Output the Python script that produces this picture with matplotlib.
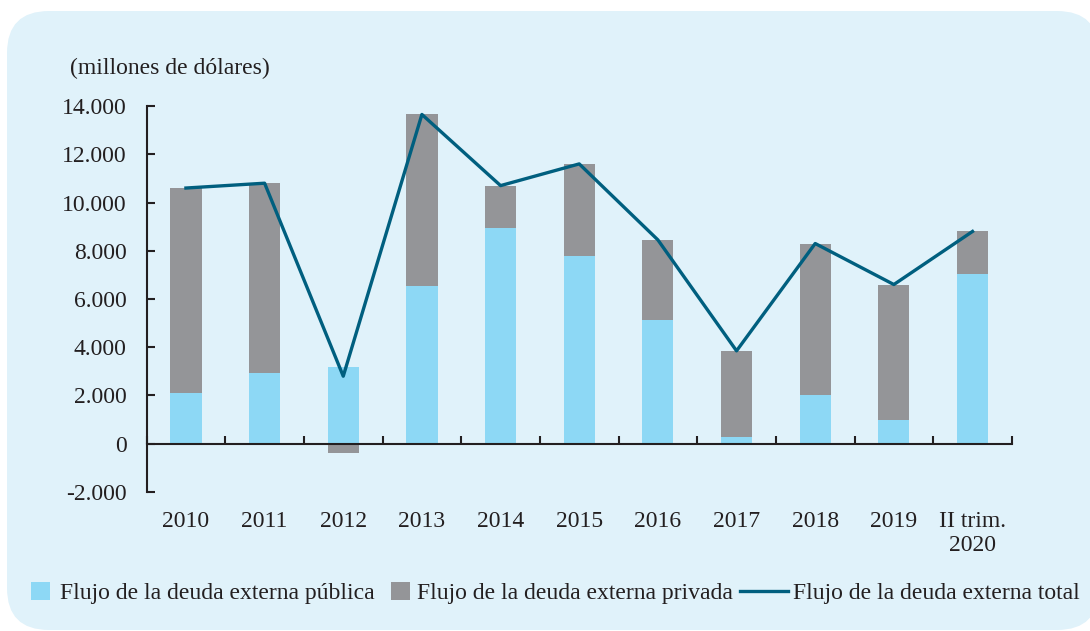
import matplotlib
matplotlib.use('Agg')
import matplotlib.pyplot as plt
import numpy as np
from matplotlib.patches import FancyBboxPatch
from matplotlib.ticker import FuncFormatter
from matplotlib.transforms import blended_transform_factory

# data (millones de dolares)
categories = ['2010', '2011', '2012', '2013', '2014', '2015', '2016', '2017',
              '2018', '2019', 'II trim.\n2020']
publica = [2100, 2950, 3200, 6550, 8950, 7800, 5150, 280, 2000, 1000, 7050]
privada = [8500, 7850, -400, 7100, 1750, 3800, 3300, 3570, 6300, 5600, 1750]
total = [10600, 10800, 2800, 13650, 10700, 11600, 8450, 3850, 8300, 6600, 8800]

C_PUB = '#8dd8f5'
C_PRIV = '#949598'
C_LINE = '#005f7f'
C_BG = '#e0f2fa'
C_TXT = '#231f20'
FS = 17

plt.rcParams['font.family'] = ['Liberation Serif', 'DejaVu Serif']
plt.rcParams['font.size'] = FS

fig = plt.figure(figsize=(10.9, 6.31), dpi=100)
bg = FancyBboxPatch((0.07, 0.01), 10.92, 6.19, boxstyle='round,pad=0,rounding_size=0.42',
                    transform=fig.dpi_scale_trans, facecolor=C_BG, edgecolor='none', zorder=-10)
fig.patches.append(bg)

ax = fig.add_axes([0.1345, 0.2203, 0.7938, 0.6117])
ax.set_facecolor('none')
ax.set_zorder(2)

x = np.arange(len(categories))
w = 0.397
pub = np.array(publica)
priv = np.array(privada)
priv_bottom = np.where(priv >= 0, np.maximum(pub, 0), 0)
h_pub = ax.bar(x, pub, w, color=C_PUB, label='Flujo de la deuda externa pública', zorder=2)
h_priv = ax.bar(x, priv, w, bottom=priv_bottom, color=C_PRIV,
                label='Flujo de la deuda externa privada', zorder=2)
h_tot, = ax.plot(x, total, color=C_LINE, lw=2.4, label='Flujo de la deuda externa total', zorder=3)

ax.set_xlim(-0.5, len(categories) - 0.5)
ax.set_ylim(-2000, 14000)
ax.set_yticks(np.arange(-2000, 14001, 2000))
ax.yaxis.set_major_formatter(FuncFormatter(lambda v, p: f'{v:,.0f}'.replace(',', '.')))

for s in ['top', 'right']:
    ax.spines[s].set_visible(False)
ax.spines['bottom'].set_position(('data', 0))
for s in ['left', 'bottom']:
    ax.spines[s].set_color(C_TXT)
    ax.spines[s].set_linewidth(1.5)

ax.set_xticks(np.arange(len(categories) + 1) - 0.5)
ax.set_xticklabels([])
ax.tick_params(axis='x', direction='in', length=6, width=1.5, color=C_TXT)
ax.tick_params(axis='y', direction='in', length=6, width=1.5, color=C_TXT,
               pad=14.4, labelcolor=C_TXT, labelsize=FS)

trans = blended_transform_factory(ax.transData, ax.transAxes)
for i, lab in enumerate(categories):
    ax.text(i, -0.05, lab, transform=trans, ha='center', va='top',
            color=C_TXT, fontsize=FS, linespacing=1.2)

fig.text(70 / 1090, 1 - 68 / 631, '(millones de dólares)', ha='left', va='center',
         color=C_TXT, fontsize=FS)

# legend: three single-entry legends, placed like the reference
em = FS * 100 / 72
leg_y = 1 - 593 / 631
leg_specs = [(h_pub, 31, 19, 10), (h_priv, 391, 19, 7), (h_tot, 740, 48, 5)]
for h, x0, hl, pad in leg_specs:
    fig.legend(handles=[h], loc='center left', bbox_to_anchor=(x0 / 1090, leg_y),
               frameon=False, borderpad=0, borderaxespad=0, handlelength=hl / em,
               handleheight=19 / em, handletextpad=pad / em, fontsize=FS, labelcolor=C_TXT)

fig.savefig('out.png', dpi=100)
